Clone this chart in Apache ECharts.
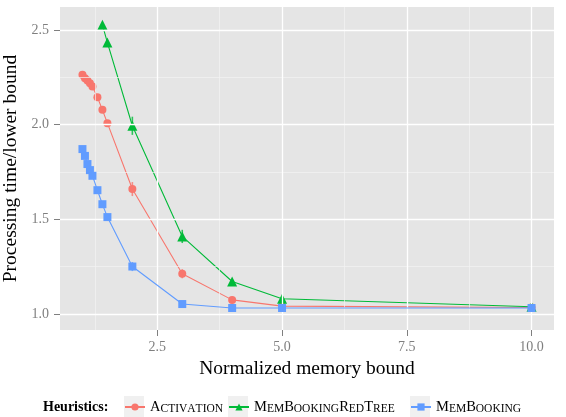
<!DOCTYPE html>
<html><head><meta charset="utf-8">
<script src="https://cdn.jsdelivr.net/npm/echarts@6/dist/echarts.min.js"></script>
<style>html,body{margin:0;padding:0;background:#fff}#c{width:566px;height:417px}</style>
</head><body><div id="c"></div>
<script>
// ---- data ----
const seriesNames = ['Activation', 'MemBookingRedTree', 'MemBooking'];
const actX   = [1.0, 1.05, 1.1, 1.15, 1.2, 1.3, 1.4, 1.5, 2, 3, 4, 5, 10];
const actY   = [2.263, 2.245, 2.233, 2.219, 2.201, 2.145, 2.078, 2.008, 1.660, 1.213, 1.075, 1.042, 1.035];
const actErr = [0, 0, 0, 0, 0, 0, 0, 0, 0.037, 0.024, 0.008, 0, 0];
const rtX    = [1.4, 1.5, 2, 3, 4, 5, 10];
const rtY    = [2.527, 2.433, 1.994, 1.410, 1.172, 1.081, 1.039];
const rtErr  = [0, 0, 0.048, 0.035, 0.01, 0, 0.012];
const mbX    = [1.0, 1.05, 1.1, 1.15, 1.2, 1.3, 1.4, 1.5, 2, 3, 4, 5, 10];
const mbY    = [1.871, 1.835, 1.792, 1.760, 1.730, 1.654, 1.580, 1.512, 1.251, 1.053, 1.032, 1.032, 1.032];
const mbErr  = [0, 0, 0, 0, 0, 0, 0, 0, 0.024, 0, 0, 0, 0];
const xTicks = [2.5, 5, 7.5, 10];
const xMinor = [1.25, 3.75, 6.25, 8.75];
const yTicks = [1.0, 1.5, 2.0, 2.5];
const yMinor = [1.25, 1.75, 2.25];
const xRange = [0.55, 10.45];
const yRange = [0.916, 2.621];
// --------------

const colors = ['#F8766D', '#00BA38', '#619CFF'];
const symbols = ['circle', 'triangle', 'rect'];
const symSizes = [8, 10, 8];
const FONT = 'Liberation Serif';

const zip = (xs, ys) => xs.map((x, i) => [x, ys[i]]);
const zip3 = (xs, ys, es) => xs.map((x, i) => [x, ys[i], es[i]]).filter(d => d[2] > 0);

function smallCaps(name) {
  let s = '';
  for (const ch of name) {
    if (ch >= 'A' && ch <= 'Z') s += '{b|' + ch + '}';
    else s += '{s|' + ch.toUpperCase() + '}';
  }
  return s;
}

const chart = echarts.init(document.getElementById('c'), null, {renderer: 'canvas'});

const gridLines = {
  type: 'line', data: [], silent: true, z: 1,
  markLine: {
    silent: true, symbol: 'none', animation: false, label: {show: false},
    data: [
      ...xMinor.map(v => ({xAxis: v, lineStyle: {color: '#f4f4f4', width: 0.7, type: 'solid'}})),
      ...yMinor.map(v => ({yAxis: v, lineStyle: {color: '#f4f4f4', width: 0.7, type: 'solid'}})),
      ...xTicks.map(v => ({xAxis: v, lineStyle: {color: '#ffffff', width: 1.3, type: 'solid'}})),
      ...yTicks.map(v => ({yAxis: v, lineStyle: {color: '#ffffff', width: 1.3, type: 'solid'}}))
    ]
  }
};

const xsArr = [actX, rtX, mbX], ysArr = [actY, rtY, mbY], esArr = [actErr, rtErr, mbErr];

const lineSeries = seriesNames.map((n, i) => ({
  name: n, type: 'line', data: zip(xsArr[i], ysArr[i]),
  symbol: symbols[i], symbolSize: symSizes[i], z: 3 + i,
  lineStyle: {color: colors[i], width: 1.1},
  itemStyle: {color: colors[i], opacity: 1},
  animation: false
}));

const errSeries = seriesNames.map((n, i) => ({
  name: 'err' + i, type: 'custom', z: 3 + i, silent: true, animation: false,
  data: zip3(xsArr[i], ysArr[i], esArr[i]),
  renderItem: (params, api) => {
    const x = api.value(0), y = api.value(1), e = api.value(2);
    const p1 = api.coord([x, y - e]), p2 = api.coord([x, y + e]);
    return {type: 'line', shape: {x1: p1[0], y1: p1[1], x2: p2[0], y2: p2[1]},
      style: {stroke: colors[i], lineWidth: 1.6, opacity: 0.8}};
  }
}));

const legendLefts = [124, 228, 410];
const legendTop = 400;

chart.setOption({
  backgroundColor: '#ffffff',
  animation: false,
  color: colors,
  title: {
    text: 'Heuristics:', left: 43, top: 400, padding: 0,
    textStyle: {fontFamily: FONT, fontWeight: 'bold', fontSize: 14, color: '#000'}
  },
  grid: {left: 60, top: 7, right: 12, bottom: 87, backgroundColor: '#e5e5e5', show: true, borderWidth: 0,
         containLabel: false, outerBoundsMode: 'none'},
  xAxis: {
    type: 'value', min: xRange[0], max: xRange[1],
    name: 'Normalized memory bound', nameLocation: 'middle', nameGap: 24,
    nameTextStyle: {fontFamily: FONT, fontSize: 19.5, color: '#000'},
    axisLine: {show: false},
    axisTick: {show: true, length: 6, lineStyle: {color: '#7f7f7f', width: 1}, customValues: xTicks},
    axisLabel: {customValues: xTicks, formatter: v => v.toFixed(1), fontFamily: FONT, fontSize: 14, color: '#7f7f7f', margin: 10},
    splitLine: {show: false}
  },
  yAxis: {
    type: 'value', min: yRange[0], max: yRange[1],
    name: 'Processing time/lower bound', nameLocation: 'middle', nameGap: 33,
    nameTextStyle: {fontFamily: FONT, fontSize: 19.5, color: '#000'},
    axisLine: {show: false},
    axisTick: {show: true, length: 6, lineStyle: {color: '#7f7f7f', width: 1}, customValues: yTicks},
    axisLabel: {customValues: yTicks, formatter: v => v.toFixed(1), fontFamily: FONT, fontSize: 14, color: '#7f7f7f', margin: 11},
    splitLine: {show: false}
  },
  legend: seriesNames.map((n, i) => ({
    data: [n], left: legendLefts[i], top: legendTop, orient: 'horizontal',
    itemWidth: 20, itemHeight: 9, selectedMode: false, padding: 0,
    formatter: name => smallCaps(name),
    textStyle: {
      fontFamily: FONT, color: '#000',
      rich: {
        b: {fontFamily: FONT, fontSize: 14.5, color: '#000', verticalAlign: 'bottom', lineHeight: 16},
        s: {fontFamily: FONT, fontSize: 11.5, color: '#000', verticalAlign: 'bottom', lineHeight: 16}
      }
    }
  })),
  graphic: legendLefts.map(l => ({
    type: 'rect', left: l, top: 396, z: -1, silent: true,
    shape: {width: 20, height: 21}, style: {fill: '#f0f0f0'}
  })),
  series: [gridLines, ...lineSeries, ...errSeries]
});
</script>
</body></html>
